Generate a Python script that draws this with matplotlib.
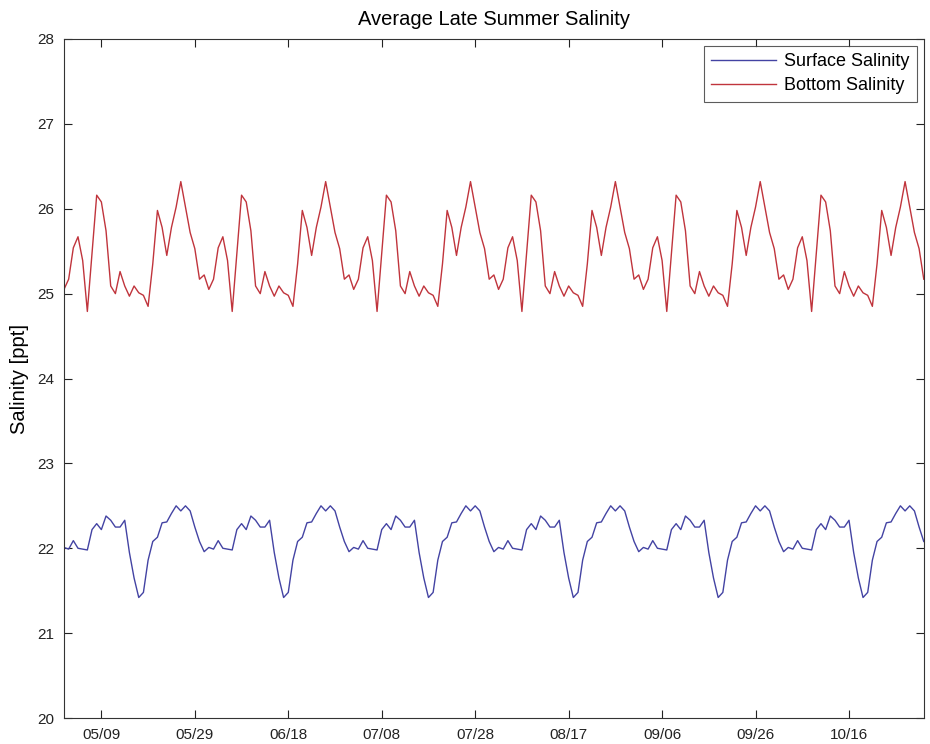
"""
Average late summer salinity - daily surface and bottom means, May through October
"""

import pandas as pd
import matplotlib.pyplot as plt
from matplotlib.ticker import NullLocator

plt.rcParams["font.family"] = ["Liberation Sans", "DejaVu Sans"]

# Configuration
OUTPUT_FILE = "out.png"
START_DATE = "2019-05-01"
END_DATE = "2019-11-01"

# Daily mean salinity (ppt), one row per month-long block
surface_salinity = [
    22.01, 21.99, 22.09, 22.00, 21.99, 21.98, 22.22, 22.29, 22.22, 22.38, 22.33, 22.25, 22.25, 22.33, 21.95, 21.65,
    21.42, 21.48, 21.86, 22.08, 22.13, 22.30, 22.31, 22.41, 22.50, 22.44, 22.50, 22.44, 22.25, 22.08, 21.96,
    22.01, 21.99, 22.09, 22.00, 21.99, 21.98, 22.22, 22.29, 22.22, 22.38, 22.33, 22.25, 22.25, 22.33, 21.95, 21.65,
    21.42, 21.48, 21.86, 22.08, 22.13, 22.30, 22.31, 22.41, 22.50, 22.44, 22.50, 22.44, 22.25, 22.08, 21.96,
    22.01, 21.99, 22.09, 22.00, 21.99, 21.98, 22.22, 22.29, 22.22, 22.38, 22.33, 22.25, 22.25, 22.33, 21.95, 21.65,
    21.42, 21.48, 21.86, 22.08, 22.13, 22.30, 22.31, 22.41, 22.50, 22.44, 22.50, 22.44, 22.25, 22.08, 21.96,
    22.01, 21.99, 22.09, 22.00, 21.99, 21.98, 22.22, 22.29, 22.22, 22.38, 22.33, 22.25, 22.25, 22.33, 21.95, 21.65,
    21.42, 21.48, 21.86, 22.08, 22.13, 22.30, 22.31, 22.41, 22.50, 22.44, 22.50, 22.44, 22.25, 22.08, 21.96,
    22.01, 21.99, 22.09, 22.00, 21.99, 21.98, 22.22, 22.29, 22.22, 22.38, 22.33, 22.25, 22.25, 22.33, 21.95, 21.65,
    21.42, 21.48, 21.86, 22.08, 22.13, 22.30, 22.31, 22.41, 22.50, 22.44, 22.50, 22.44, 22.25, 22.08, 21.96,
    22.01, 21.99, 22.09, 22.00, 21.99, 21.98, 22.22, 22.29, 22.22, 22.38, 22.33, 22.25, 22.25, 22.33, 21.95, 21.65,
    21.42, 21.48, 21.86, 22.08, 22.13, 22.30, 22.31, 22.41, 22.50, 22.44, 22.50, 22.44, 22.25, 22.08,
]

bottom_salinity = [
    25.05, 25.17, 25.54, 25.67, 25.39, 24.79, 25.47, 26.16, 26.08, 25.74, 25.09, 25.00, 25.26, 25.09, 24.97, 25.09,
    25.01, 24.98, 24.85, 25.35, 25.98, 25.78, 25.45, 25.78, 26.02, 26.32, 26.02, 25.72, 25.53, 25.17, 25.22,
    25.05, 25.17, 25.54, 25.67, 25.39, 24.79, 25.47, 26.16, 26.08, 25.74, 25.09, 25.00, 25.26, 25.09, 24.97, 25.09,
    25.01, 24.98, 24.85, 25.35, 25.98, 25.78, 25.45, 25.78, 26.02, 26.32, 26.02, 25.72, 25.53, 25.17, 25.22,
    25.05, 25.17, 25.54, 25.67, 25.39, 24.79, 25.47, 26.16, 26.08, 25.74, 25.09, 25.00, 25.26, 25.09, 24.97, 25.09,
    25.01, 24.98, 24.85, 25.35, 25.98, 25.78, 25.45, 25.78, 26.02, 26.32, 26.02, 25.72, 25.53, 25.17, 25.22,
    25.05, 25.17, 25.54, 25.67, 25.39, 24.79, 25.47, 26.16, 26.08, 25.74, 25.09, 25.00, 25.26, 25.09, 24.97, 25.09,
    25.01, 24.98, 24.85, 25.35, 25.98, 25.78, 25.45, 25.78, 26.02, 26.32, 26.02, 25.72, 25.53, 25.17, 25.22,
    25.05, 25.17, 25.54, 25.67, 25.39, 24.79, 25.47, 26.16, 26.08, 25.74, 25.09, 25.00, 25.26, 25.09, 24.97, 25.09,
    25.01, 24.98, 24.85, 25.35, 25.98, 25.78, 25.45, 25.78, 26.02, 26.32, 26.02, 25.72, 25.53, 25.17, 25.22,
    25.05, 25.17, 25.54, 25.67, 25.39, 24.79, 25.47, 26.16, 26.08, 25.74, 25.09, 25.00, 25.26, 25.09, 24.97, 25.09,
    25.01, 24.98, 24.85, 25.35, 25.98, 25.78, 25.45, 25.78, 26.02, 26.32, 26.02, 25.72, 25.53, 25.17,
]

tick_labels = ["05/09", "05/29", "06/18", "07/08", "07/28", "08/17", "09/06", "09/26", "10/16"]
y_ticks = [20, 21, 22, 23, 24, 25, 26, 27, 28]

dates = pd.date_range(START_DATE, periods=len(surface_salinity), freq="D")
tick_dates = pd.to_datetime([f"2019-{t.replace('/', '-')}" for t in tick_labels])

fig = plt.figure(figsize=(9.3, 7.44), dpi=100)
ax = fig.add_axes([0.0688, 0.0349, 0.9245, 0.9127])

ax.plot(dates, surface_salinity, color="#4343a3", linewidth=1.0, label="Surface Salinity")
ax.plot(dates, bottom_salinity, color="#c0343c", linewidth=1.0, label="Bottom Salinity")

ax.set_xlim(pd.Timestamp(START_DATE), pd.Timestamp(END_DATE))
ax.set_ylim(20, 28)
ax.set_yticks(y_ticks)
ax.set_xticks(tick_dates)
ax.set_xticklabels(tick_labels)
ax.xaxis.set_minor_locator(NullLocator())
ax.yaxis.set_minor_locator(NullLocator())

ax.tick_params(direction="in", length=6, width=0.8, top=True, right=True,
               labelsize=11, colors="#222222", pad=7)
for spine in ax.spines.values():
    spine.set_color("#333333")
    spine.set_linewidth(0.8)

ax.set_ylabel("Salinity [ppt]", fontsize=14.5, labelpad=6)
ax.set_title("Average Late Summer Salinity", fontsize=14.5, pad=10)

leg = ax.legend(loc="upper right", fontsize=13, frameon=True, fancybox=False,
                handlelength=3.6, handletextpad=0.45, borderpad=0.4,
                labelspacing=0.38, borderaxespad=0.4)
leg.get_frame().set_edgecolor("#333333")
leg.get_frame().set_linewidth(0.8)

fig.savefig(OUTPUT_FILE, dpi=100)
plt.close(fig)
